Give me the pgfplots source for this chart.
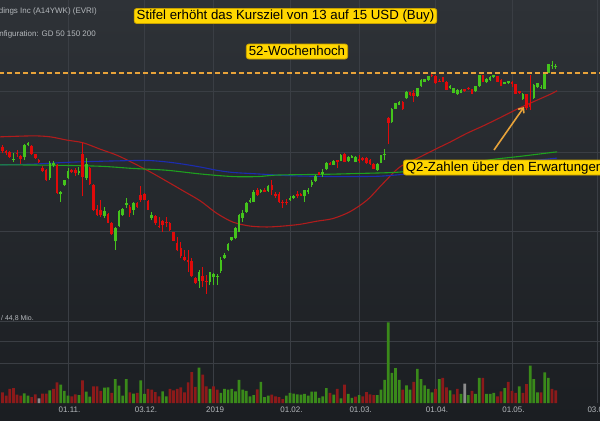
\documentclass[border=0pt]{standalone}
\usepackage{pgfplots}
\pgfplotsset{compat=1.18}
\usepackage{pgfplotstable}
\usetikzlibrary{arrows.meta}
\usepackage{fontspec}
\setmainfont{Liberation Sans}

\definecolor{bgtop}{HTML}{2E3237}
\definecolor{bgbot}{HTML}{1B1E22}
\definecolor{gridc}{HTML}{3A3E44}
\definecolor{cup}{HTML}{44C41C}
\definecolor{cdn}{HTML}{E00A0A}
\definecolor{vup}{HTML}{3A8A1A}
\definecolor{vdn}{HTML}{8C1A1A}
\definecolor{vgy}{HTML}{8C8C8C}
\definecolor{maA}{HTML}{B01C1C}
\definecolor{maB}{HTML}{1C2CB0}
\definecolor{maC}{HTML}{1EA01E}
\definecolor{orangec}{HTML}{E8A33A}
\definecolor{yellowc}{HTML}{FFD600}
\definecolor{yellowb}{HTML}{C8A200}
\definecolor{txtc}{HTML}{B4B8BC}

% candles: i = trading day index (0 = 01.11.2018), o h l c in USD
\pgfplotstableread{
i o h l c
-15 7.77 7.97 7.71 7.81
-12 7.86 8.24 7.77 8.21
-11 8.21 8.30 8.18 8.27
-5 7.28 7.74 7.23 7.69
-4 7.64 7.76 7.57 7.69
-2 6.88 6.95 6.68 6.92
-1 7.10 7.23 7.07 7.22
0 7.28 7.55 7.26 7.48
3 7.41 7.59 7.36 7.46
5 7.28 7.83 7.23 7.66
10 6.34 6.55 6.29 6.46
13 5.78 6.09 5.60 6.06
14 6.12 6.48 6.09 6.46
15 6.36 6.53 6.34 6.50
16 6.61 6.77 6.53 6.65
18 6.48 6.68 6.36 6.65
23 6.30 6.44 6.24 6.36
36 5.00 5.20 4.88 5.16
39 4.98 5.17 4.93 5.16
40 5.07 5.15 4.93 5.13
41 5.07 5.13 4.93 5.10
42 5.19 5.45 5.15 5.40
43 5.43 5.53 5.42 5.50
44 5.60 5.74 5.57 5.72
45 5.80 5.88 5.78 5.87
46 5.84 6.09 5.82 6.06
47 5.99 6.38 5.98 6.36
48 6.30 6.48 6.21 6.41
49 6.43 6.67 6.41 6.65
50 6.68 6.77 6.65 6.73
51 6.68 6.97 6.67 6.93
53 6.92 7.00 6.90 6.97
55 6.95 7.10 6.92 7.06
61 6.71 6.81 6.70 6.78
62 6.76 6.85 6.75 6.82
65 6.81 6.98 6.68 6.97
66 6.91 7.02 6.88 6.98
67 7.09 7.23 7.05 7.17
68 7.20 7.36 7.18 7.33
70 7.39 7.53 7.32 7.45
71 7.52 7.71 7.49 7.70
73 7.64 7.78 7.63 7.76
75 7.76 7.94 7.74 7.93
77 7.74 7.89 7.71 7.86
78 7.84 7.93 7.83 7.90
79 7.73 7.90 7.71 7.87
85 7.49 7.69 7.48 7.67
86 7.70 7.93 7.69 7.91
87 7.91 8.09 7.77 7.96
89 8.92 9.40 8.90 9.38
90 9.38 9.58 9.37 9.56
91 9.51 9.65 9.49 9.61
93 9.73 10.00 9.72 9.97
96 9.81 10.12 9.79 10.10
97 10.17 10.45 10.15 10.41
98 10.35 10.45 10.34 10.43
99 10.41 10.57 10.39 10.55
105 10.10 10.21 10.08 10.19
106 9.93 10.12 9.91 10.10
107 9.88 10.06 9.86 10.04
108 9.93 10.08 9.91 10.04
112 10.00 10.19 9.98 10.17
113 10.17 10.61 10.15 10.59
115 10.34 10.47 10.30 10.45
116 10.41 10.55 10.37 10.53
117 10.51 10.62 10.49 10.61
120 10.26 10.35 10.24 10.34
121 10.30 10.39 10.26 10.37
125 9.72 9.91 9.68 9.90
128 9.75 10.26 9.72 10.22
129 10.13 10.30 10.11 10.28
130 10.11 10.22 10.08 10.15
131 10.08 10.68 10.06 10.66
132 10.68 11.04 10.66 11.02
133 10.94 11.14 10.84 11.00
134 10.90 11.02 10.84 10.96
}\up

\pgfplotstableread{
i o h l c
-19 8.27 8.33 8.15 8.18
-18 8.15 8.21 7.97 8.03
-17 8.03 8.06 7.91 7.99
-16 8.00 8.03 7.83 7.86
-14 7.99 8.05 7.86 7.94
-13 7.90 7.91 7.66 7.80
-10 8.18 8.21 7.91 7.94
-9 7.94 7.96 7.80 7.83
-8 7.77 7.80 7.69 7.73
-7 7.56 7.60 7.43 7.48
-6 7.49 7.52 7.20 7.22
-3 7.63 7.66 6.88 6.90
1 7.49 7.52 7.41 7.43
2 7.49 7.55 7.33 7.41
4 7.94 8.27 6.81 7.32
6 7.55 7.57 7.10 7.13
7 7.10 7.13 6.46 6.48
8 6.50 6.60 6.34 6.36
9 6.48 6.72 6.31 6.36
11 6.38 6.41 6.17 6.19
12 6.17 6.20 5.91 5.93
17 6.56 6.60 6.32 6.42
19 6.65 6.67 6.53 6.55
20 6.85 7.06 6.68 6.73
21 6.87 6.90 6.72 6.73
22 6.70 6.72 6.48 6.49
24 6.34 6.36 6.13 6.17
25 6.11 6.32 6.06 6.09
26 6.22 6.24 5.99 6.13
27 6.21 6.32 6.09 6.17
28 6.19 6.20 6.00 6.02
29 5.97 5.98 5.78 5.79
30 5.75 5.88 5.57 5.59
31 5.65 5.77 5.43 5.47
32 5.45 5.60 5.37 5.40
33 5.39 5.60 5.17 5.35
34 5.37 5.44 5.08 5.09
35 5.05 5.07 4.94 4.96
37 5.09 5.27 4.90 5.00
38 5.00 5.11 4.77 4.98
52 6.98 7.03 6.82 6.85
54 6.97 7.02 6.91 6.93
56 7.09 7.22 6.85 6.97
57 6.88 6.92 6.78 6.81
58 6.88 6.91 6.65 6.66
59 6.68 6.71 6.53 6.66
60 6.68 6.74 6.60 6.66
63 6.87 6.95 6.76 6.82
64 6.87 6.90 6.82 6.83
69 7.44 7.45 7.35 7.36
72 7.70 7.73 7.63 7.64
74 7.77 7.78 7.55 7.71
76 7.94 7.97 7.71 7.73
80 7.81 7.91 7.70 7.76
81 7.83 7.86 7.74 7.77
82 7.83 7.86 7.67 7.69
83 7.77 7.80 7.63 7.66
84 7.67 7.69 7.52 7.53
88 9.05 9.08 8.24 8.90
92 9.61 9.65 9.33 9.37
94 9.95 9.97 9.82 9.86
95 9.93 10.04 9.61 9.82
100 10.62 10.64 10.53 10.55
101 10.57 10.59 10.26 10.28
102 10.39 10.43 10.34 10.35
103 10.51 10.53 10.34 10.35
104 10.35 10.37 10.02 10.04
109 10.06 10.08 9.97 10.00
110 10.11 10.13 10.04 10.08
111 10.06 10.08 9.88 9.90
114 10.59 10.61 10.32 10.34
118 10.55 10.57 10.32 10.34
119 10.41 10.43 10.17 10.19
122 10.35 10.37 10.15 10.26
123 10.24 10.26 9.88 9.90
124 9.99 10.00 9.90 9.93
126 9.88 9.90 9.33 9.40
127 9.52 10.62 9.33 9.45
}\down

% moving averages (GD 50 / 150 / 200)
\pgfplotstableread{
i p
-18.7 8.46
-9.6 8.49
-4.9 8.46
-0.3 8.36
4.1 8.28
8.8 8.09
13.5 7.91
17.9 7.69
22.5 7.45
27.2 7.19
31.6 6.95
36.3 6.70
40.9 6.40
45.3 6.20
50.0 6.11
54.7 6.09
59.1 6.11
63.8 6.15
68.4 6.22
72.8 6.28
77.5 6.44
82.2 6.72
86.6 7.14
91.2 7.58
96.7 7.86
101.4 8.11
105.0 8.30
109.6 8.57
114.0 8.80
118.7 9.07
123.4 9.36
127.8 9.61
132.5 9.88
134.4 10.01
}\gdA

\pgfplotstableread{
i p
-18.7 7.64
-9.6 7.66
-0.3 7.71
8.8 7.74
17.9 7.76
22.5 7.76
27.2 7.72
31.6 7.66
36.3 7.58
40.9 7.49
45.3 7.43
52.2 7.39
61.6 7.34
72.8 7.32
78.9 7.32
85.7 7.33
91.2 7.37
96.7 7.41
105.0 7.49
118.7 7.66
134.4 7.83
}\gdB

\pgfplotstableread{
i p
-18.7 7.64
-4.9 7.63
8.8 7.60
17.9 7.54
27.2 7.49
36.3 7.39
45.3 7.32
52.2 7.32
57.7 7.36
70.6 7.38
78.9 7.40
91.2 7.44
96.7 7.55
105.0 7.64
113.2 7.74
117.3 7.80
124.2 7.88
134.4 8.01
}\gdC

% volume (Mio.)
\pgfplotstableread{
i v
-12 5.4
-11 4.1
-5 7.0
-2 10.2
-1 6.8
0 4.1
3 4.4
5 6.3
6 3.5
10 8.5
11 8.7
13 13.3
14 9.6
15 4.1
16 13.3
18 5.2
20 12.6
21 5.0
26 6.5
27 3.7
36 19.6
39 7.9
42 5.6
43 7.8
44 7.4
45 7.9
46 6.5
47 12.9
48 7.4
49 6.7
50 3.7
51 4.4
53 11.7
54 3.3
55 4.1
60 4.1
61 5.6
62 5.2
63 4.8
64 4.6
65 5.0
66 4.1
67 6.3
68 6.3
69 2.8
70 3.7
71 8.2
73 4.6
75 2.6
77 5.0
78 2.8
80 4.4
85 4.4
86 7.4
87 12.9
88 44.8
89 16.7
90 19.4
91 12.9
93 9.8
94 7.4
96 18.9
97 13.3
98 9.8
99 7.9
100 5.9
102 13.3
105 7.0
108 5.0
110 4.4
112 5.0
113 13.9
115 5.0
116 5.0
117 5.6
120 8.3
124 9.3
127 20.7
128 13.3
129 5.9
131 17.0
132 13.9
}\volg

\pgfplotstableread{
i v
-18 5.9
-17 4.1
-16 7.9
-15 8.2
-14 4.6
-13 4.1
-10 3.3
-9 4.8
-7 5.2
-6 5.2
-4 7.8
-3 11.5
1 3.7
2 4.8
4 12.6
7 9.3
8 9.3
9 6.8
12 5.6
17 5.9
19 5.6
22 7.8
23 7.4
24 6.1
25 3.7
28 7.8
29 7.0
30 7.8
31 8.7
32 5.9
33 11.5
34 17.2
35 8.9
37 15.7
38 9.3
40 9.3
41 7.4
52 7.6
56 4.6
57 3.7
58 3.3
59 2.2
72 5.6
74 7.8
76 10.2
79 3.5
81 3.7
82 6.1
83 4.8
84 4.4
92 7.4
95 11.7
101 7.8
103 13.9
104 8.7
106 4.8
107 7.8
111 6.8
114 13.9
118 3.7
119 6.5
121 11.7
122 6.8
123 5.6
125 5.6
126 10.5
130 5.9
133 7.9
134 7.0
}\volr

\pgfplotstableread{
i v
-8 2.6
109 10.7
}\volgy

\pgfplotsset{
  chartbase/.style={
    scale only axis, anchor=south west, width=600bp,
    xmin=-18.69, xmax=146.19,
    axis line style={draw=none}, tick style={draw=none},
    xtick={0,21,40,61,80,101,122,145.4},
    grid=major, major grid style={gridc, line width=0.9bp},
  },
  wick/.style={draw=none, mark=none, forget plot,
    error bars/.cd, y dir=plus, y explicit, error mark=none,
    error bar style={draw=#1, solid, line width=0.9bp}},
  body/.style={draw=none, mark=none, forget plot,
    error bars/.cd, y dir=plus, y explicit, error mark=none,
    error bar style={draw=#1, solid, line width=2.6bp, line cap=butt}},
}

\begin{document}
\begin{tikzpicture}[x=1bp, y=1bp]
\shade[top color=bgtop, bottom color=bgbot] (0,0) rectangle (600,420);

% price panel
\begin{axis}[chartbase, at={(0bp,120bp)}, height=300bp,
  ymode=log, ymin=4.6655, ymax=13.937,
  ytick={6,8,10}, xticklabels={}, yticklabels={}]
\addplot[maA, line width=1.1bp, smooth, mark=none] table[x=i, y=p] {\gdA};
\addplot[maB, line width=1.1bp, smooth, mark=none] table[x=i, y=p] {\gdB};
\addplot[maC, line width=1.1bp, smooth, mark=none] table[x=i, y=p] {\gdC};
\addplot[wick=cup] table[x=i, y=l, y error plus expr=\thisrow{h}-\thisrow{l}] {\up};
\addplot[body=cup] table[x=i, y=o, y error plus expr=\thisrow{c}-\thisrow{o}] {\up};
\addplot[wick=cdn] table[x=i, y=l, y error plus expr=\thisrow{h}-\thisrow{l}] {\down};
\addplot[body=cdn] table[x=i, y=c, y error plus expr=\thisrow{o}-\thisrow{c}] {\down};
\addplot[orangec, line width=1.4bp, dash pattern=on 5bp off 3bp, mark=none]
  coordinates {(-19,10.68) (147,10.68)};
\end{axis}

% volume panel
\begin{axis}[chartbase, at={(0bp,17bp)}, height=103bp,
  ymin=0, ymax=57.165, ytick={22.2,33.9,45.0}, yticklabels={},
  xticklabels={01.11.,03.12.,2019,01.02.,01.03.,01.04.,01.05.,03.06.},
  xticklabel style={font=\fontsize{8}{9}\selectfont, text=txtc, anchor=north, inner sep=1bp, yshift=-3bp, xshift=1.5bp}]
\addplot[ybar, bar width=2.7bp, bar shift=0pt, fill=vup, draw=none] table[x=i, y=v] {\volg};
\addplot[ybar, bar width=2.7bp, bar shift=0pt, fill=vdn, draw=none] table[x=i, y=v] {\volr};
\addplot[ybar, bar width=2.7bp, bar shift=0pt, fill=vgy, draw=none] table[x=i, y=v] {\volgy};
\end{axis}

% header texts
\node[anchor=east, inner sep=0pt, text=txtc, font=\fontsize{8}{9}\selectfont] at (97,409) {Everi Holdings Inc (A14YWK) (EVRI)};
\node[anchor=east, inner sep=0pt, text=txtc, font=\fontsize{8}{9}\selectfont] at (96,386) {Konfiguration: GD 50 150 200};
\node[anchor=east, inner sep=0pt, text=txtc, font=\fontsize{7}{9}\selectfont] at (34,102) {Volumen / 44,8 Mio.};

% annotations
\tikzset{note/.style={fill=yellowc, draw=yellowb, line width=0.8bp, rounded corners=2.5bp,
  inner xsep=2.5bp, inner ysep=1bp, text height=10bp, text depth=3bp,
  font=\fontsize{13.3}{15}\selectfont, text=black}}
\node[note] at (285.5,404) {Stifel erhöht das Kursziel von 13 auf 15 USD (Buy)};
\node[note] at (297,368.5) {52-Wochenhoch};
\draw[orangec, line width=1.6bp, -{Straight Barb[length=4bp, width=7bp]}] (494,270) -- (524,313);
\node[note, anchor=west] at (403,252.5) {Q2-Zahlen über den Erwartungen};

\pgfresetboundingbox
\path[use as bounding box] (0,0) rectangle (600,420);
\end{tikzpicture}
\end{document}
